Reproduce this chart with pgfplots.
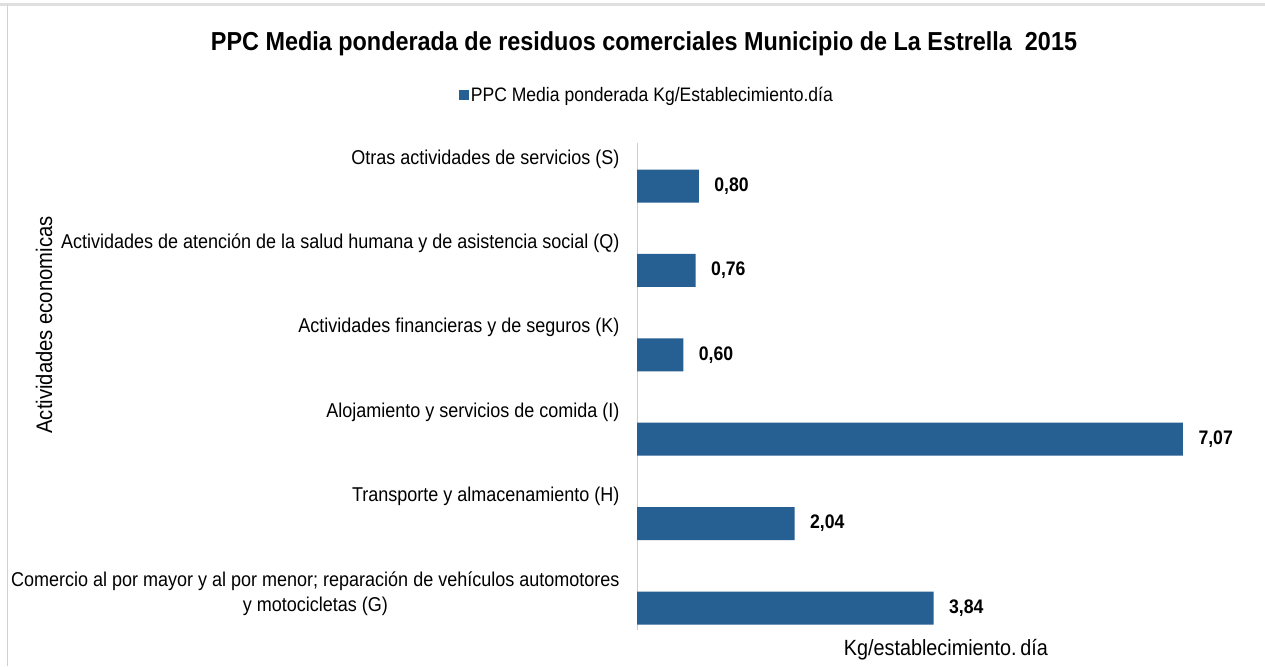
\documentclass[border=0pt]{standalone}
\usepackage{fontspec}
\setmainfont{Liberation Sans}[FakeStretch=0.9]
\usepackage{pgfplots}
\pgfplotsset{compat=1.18}
\definecolor{barblue}{HTML}{265F91}
\begin{document}
\begin{tikzpicture}[x=1pt,y=1pt]
\useasboundingbox (0,0) rectangle (1265,666);
\fill[white] (0,0) rectangle (1265,666);
\draw[gray!25, line width=3pt] (0,661) -- (1265,661);
\draw[gray!35, line width=1.5pt] (7.5,0) -- (7.5,661);
\node[font=\fontsize{26}{30}\selectfont\bfseries] at (644,622) {PPC Media ponderada de residuos comerciales Municipio de La Estrella\ \ 2015};
\node[font=\fontsize{22.5}{26}\selectfont, rotate=90] at (44,341) {Actividades economicas};
\begin{axis}[
  at={(637pt,36pt)}, anchor=south west,
  scale only axis, width=617.8pt, height=487pt,
  xmin=0, xmax=8, ymin=-0.26, ymax=5.51,
  xbar, bar width=33pt,
  axis lines=left,
  x axis line style={draw=none},
  y axis line style={draw=gray!40, line width=0.8pt, -},
  xtick=\empty,
  ytick={0,1,2,3,4,5},
  yticklabels={{Comercio al por mayor y al por menor; reparación de vehículos automotores\\y motocicletas (G)},
    {Transporte y almacenamiento (H)},
    {Alojamiento y servicios de comida (I)},
    {Actividades financieras y de seguros (K)},
    {Actividades de atención de la salud humana y de asistencia social (Q)},
    {Otras actividades de servicios (S)}},
  major tick length=0pt,
  yticklabel style={font=\fontsize{20}{25}\selectfont, align=center, anchor=north east, yshift=40pt, xshift=-14pt},
  xlabel={Kg/establecimiento.\,día},
  xlabel style={font=\fontsize{22}{24}\selectfont, yshift=-6pt},
  nodes near coords,
  nodes near coords style={font=\fontsize{19.6}{22}\selectfont\bfseries, anchor=west, xshift=12pt,
    /pgf/number format/.cd, fixed, fixed zerofill, precision=2, use comma, assume math mode=true},
  legend style={at={(0.016,1.0986)}, anchor=center, draw=none, font=\fontsize{19.5}{22}\selectfont, inner sep=0pt},
  legend image code/.code={\fill[barblue] (-3pt,-5pt) rectangle (7pt,5pt);},
  clip=false,
]
\addplot[fill=barblue, draw=none] coordinates {(3.84,0) (2.04,1) (7.07,2) (0.60,3) (0.76,4) (0.80,5)};
\addlegendentry{PPC Media ponderada Kg/Establecimiento.día}
\end{axis}
\end{tikzpicture}
\end{document}
